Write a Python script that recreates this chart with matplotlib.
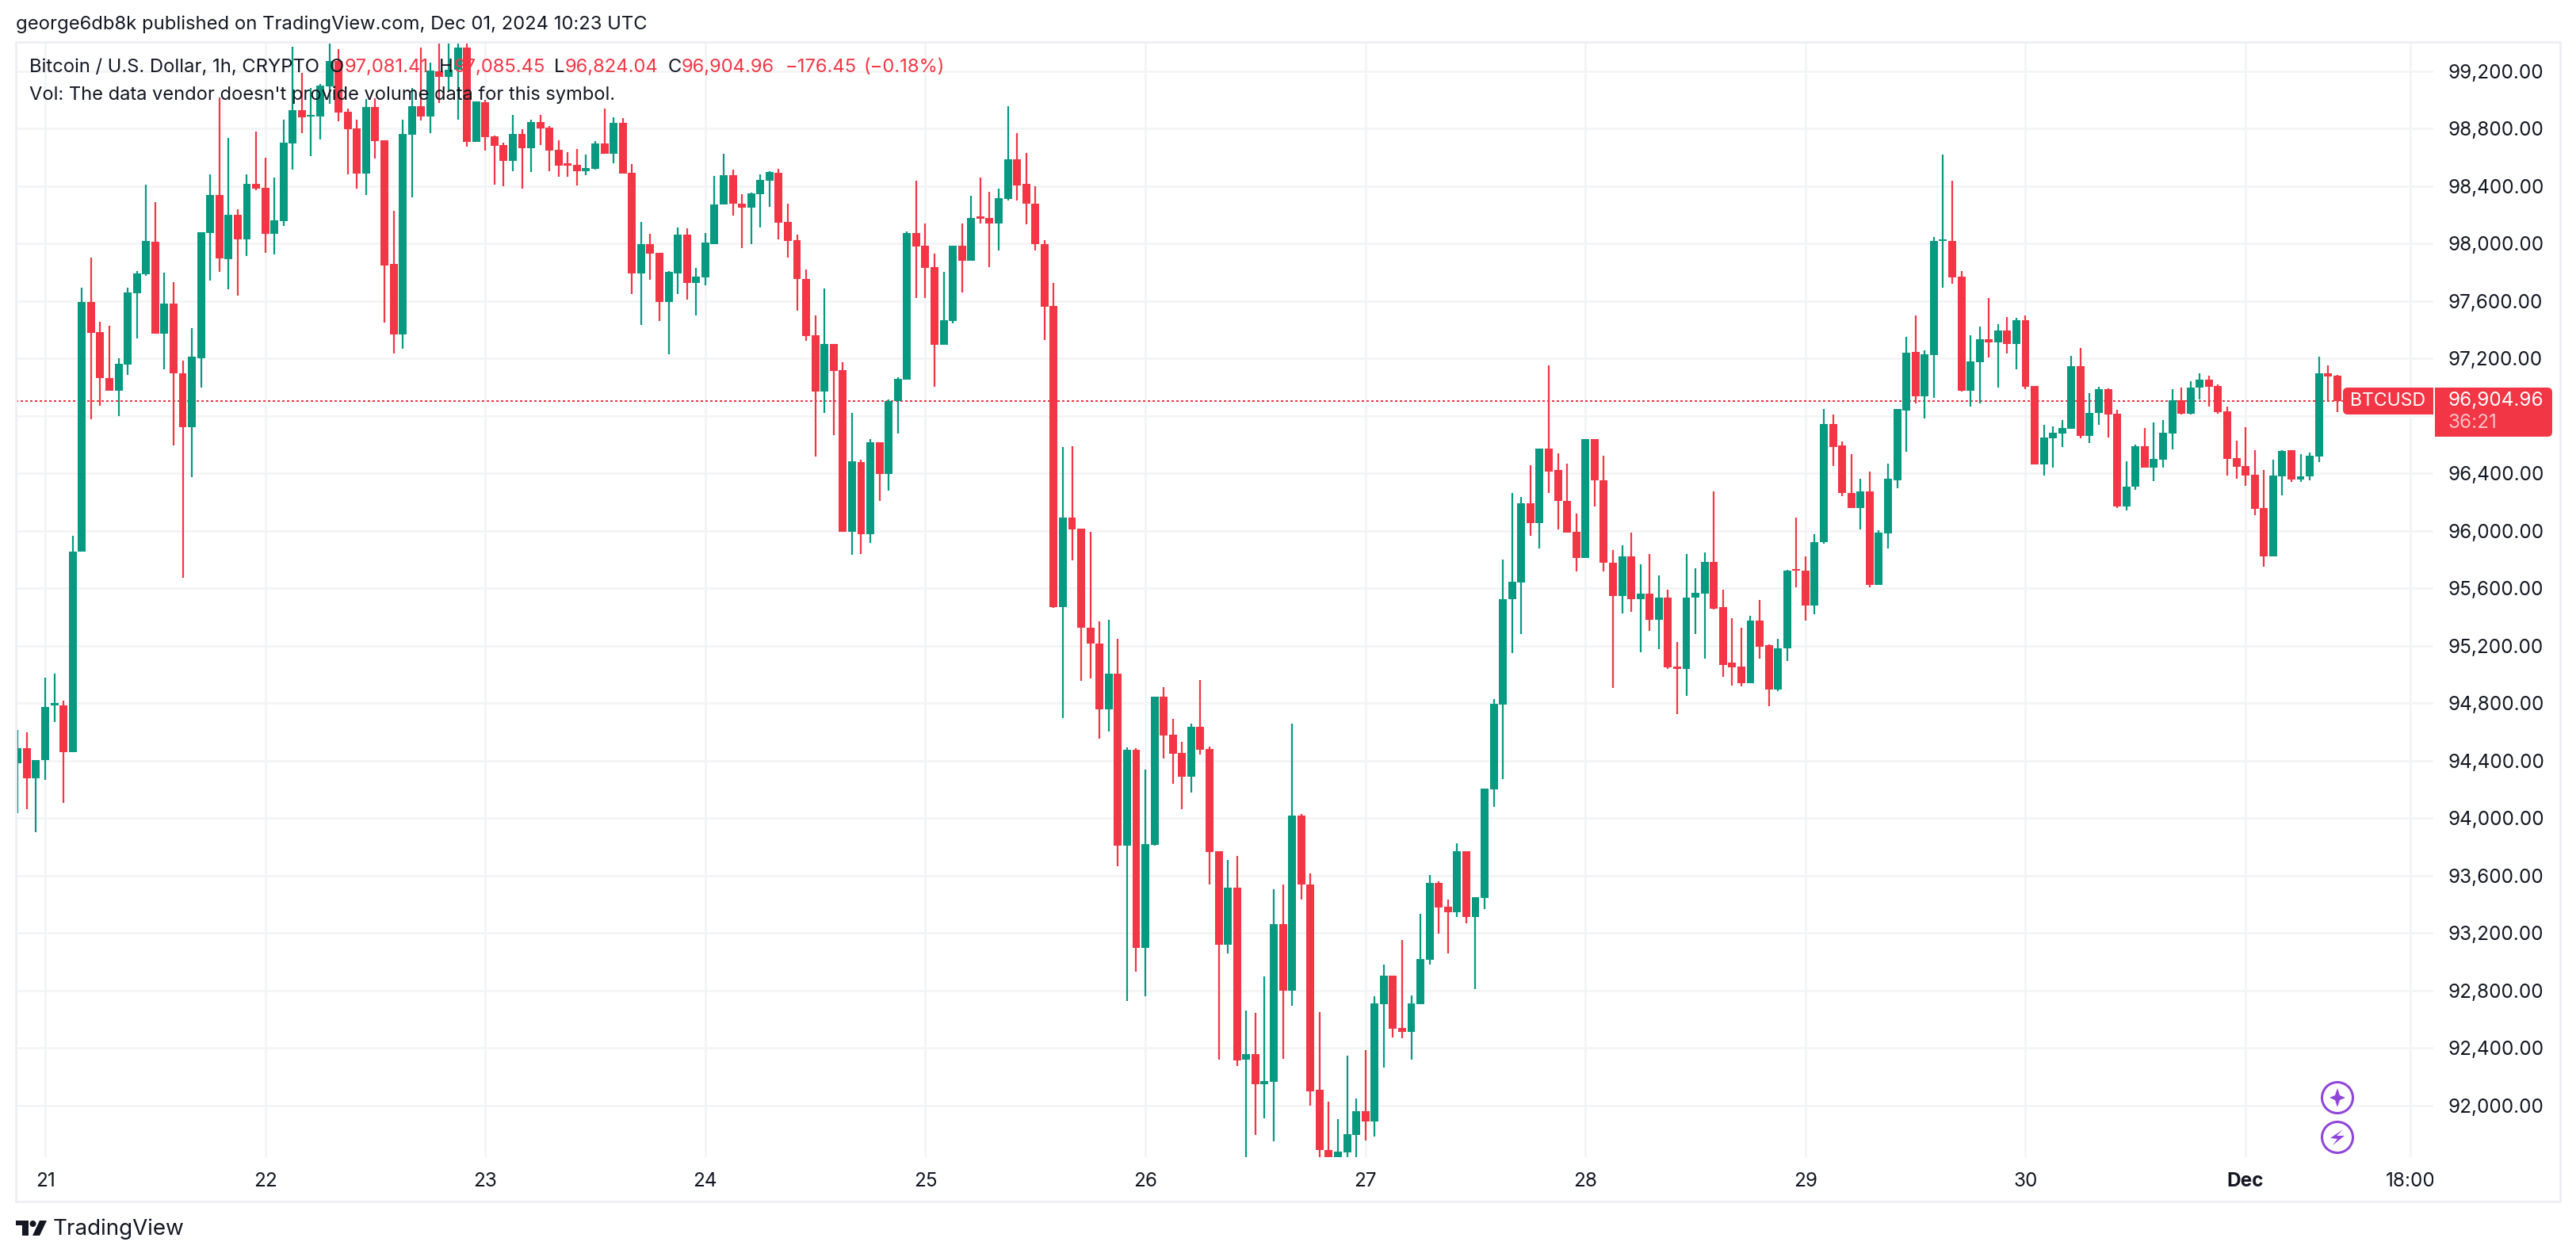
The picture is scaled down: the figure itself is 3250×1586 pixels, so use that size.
import matplotlib
matplotlib.use('Agg')
import matplotlib.pyplot as plt
import numpy as np
from matplotlib.patches import Rectangle, Circle, FancyBboxPatch, Polygon

opens = [
    94384, 94488, 94280, 94403, 94787, 94787, 94462, 95857, 97594, 97385,
    97064, 96975, 97158, 97653, 97788, 98011, 97374, 97583, 97098, 96721,
    97202, 98075, 98339, 97892, 98201, 98030, 98414, 98388, 98067, 98156,
    98697, 98930, 98884, 98882, 99092, 99268, 98915, 98799, 98485, 98948,
    98717, 97855, 97366, 98755, 98954, 98882, 99196, 99160, 99211, 99362,
    98706, 98985, 98744, 98684, 98573, 98761, 98661, 98843, 98805, 98650,
    98551, 98546, 98503, 98518, 98695, 98623, 98838, 98491, 97794, 97998,
    97935, 97590, 97794, 98061, 97724, 97762, 97998, 98269, 98473, 98279,
    98248, 98343, 98434, 98491, 98149, 98023, 97755, 97362, 96968, 97298,
    97119, 95993, 96479, 95976, 96616, 96394, 96901, 97052, 98075, 97984,
    97833, 97295, 97460, 97984, 97882, 98181, 98178, 98139, 98308, 98585,
    98413, 98279, 97998, 97566, 95469, 96095, 96015, 95328, 95218, 94755,
    95007, 93810, 94477, 93099, 93816, 94848, 94579, 94455, 94291, 94634,
    94483, 93772, 93121, 93514, 92320, 92358, 92149, 92165, 93264, 92800,
    94016, 93541, 92110, 91691, 91620, 91675, 91796, 91961, 91890, 92707,
    92902, 92542, 92515, 92707, 93017, 93552, 93385, 93346, 93772, 93313,
    93442, 94203, 94793, 95523, 95639, 96194, 96056, 96575, 96421, 96206,
    95991, 95810, 96637, 96354, 95780, 95544, 95824, 95523, 95561, 95379,
    95537, 95054, 95037, 95533, 95561, 95786, 95468, 95082, 95054, 94942,
    95373, 95202, 94894, 95181, 95729, 95725, 95478, 95919, 96746, 96592,
    96265, 96156, 96272, 95622, 95981, 96354, 96839, 97246, 96934, 97225,
    98016, 98018, 97769, 96976, 97174, 97334, 97311, 97394, 97301, 97465,
    97007, 96463, 96644, 96678, 96712, 97147, 96663, 96818, 96986, 96815,
    96170, 96305, 96590, 96440, 96497, 96678, 96908, 96815, 96995, 97052,
    97007, 96832, 96507, 96450, 96391, 96159, 95824, 96381, 96562, 96355,
    96381, 96518, 97099, 97081.41,
]
highs = [
    94615, 94600, 94406, 94980, 95003, 94820, 95968, 97694, 97903, 97456,
    97430, 97199, 97694, 97810, 98410, 98287, 97799, 97732, 97187, 97411,
    98078, 98481, 99014, 98735, 98239, 98481, 98779, 98597, 98459, 98861,
    99368, 99187, 99081, 99112, 99393, 99351, 98937, 98860, 99003, 99011,
    98717, 98228, 98860, 99084, 99362, 99257, 99393, 99393, 99389, 99393,
    98990, 99001, 98750, 98700, 98893, 98794, 98860, 98893, 98816, 98717,
    98634, 98656, 98617, 98711, 98937, 98877, 98871, 98551, 98149, 98065,
    97935, 97808, 98111, 98104, 97829, 98075, 98469, 98624, 98512, 98343,
    98353, 98483, 98501, 98522, 98276, 98061, 97819, 97499, 97685, 97298,
    97172, 96820, 96493, 96637, 96616, 96915, 97066, 98083, 98434, 98139,
    97928, 97801, 97984, 98139, 98332, 98459, 98357, 98381, 98955, 98765,
    98628, 98396, 98023, 97724, 96581, 96588, 96015, 95993, 95372, 95383,
    95251, 94491, 94485, 94340, 94848, 94914, 94694, 94529, 94661, 94963,
    94497, 93772, 93711, 93739, 92663, 92646, 92896, 93508, 93541, 94656,
    94027, 93618, 92652, 92028, 91906, 92347, 92050, 92386, 92762, 92984,
    92902, 93154, 92767, 93335, 93602, 93558, 93431, 93827, 93772, 93448,
    94208, 94831, 95798, 96265, 96238, 96459, 96575, 97149, 96537, 96470,
    96118, 96641, 96637, 96521, 95869, 95902, 95985, 95769, 95837, 95687,
    95588, 95229, 95841, 95738, 95852, 96272, 95588, 95390, 95324, 95411,
    95516, 95212, 95246, 95731, 96090, 95824, 95974, 96846, 96812, 96624,
    96531, 96364, 96415, 96002, 96470, 96846, 97352, 97499, 97256, 98043,
    98619, 98436, 97807, 97362, 97421, 97621, 97438, 97488, 97480, 97499,
    97007, 96737, 96727, 96771, 97218, 97273, 96959, 97003, 96993, 96843,
    96484, 96600, 96716, 96754, 96771, 96986, 96997, 97039, 97096, 97079,
    97018, 96864, 96628, 96723, 96562, 96423, 96495, 96562, 96562, 96535,
    96545, 97212, 97149, 97085.45,
]
lows = [
    94034, 94063, 93903, 94265, 94667, 94108, 94462, 95857, 96777, 96871,
    96975, 96796, 97087, 97337, 97773, 97374, 97124, 96595, 95674, 96371,
    96997, 97739, 97803, 97683, 97639, 97914, 98373, 97937, 97926, 98123,
    98515, 98766, 98606, 98722, 98970, 98849, 98480, 98380, 98336, 98590,
    97452, 97236, 97269, 98320, 98856, 98766, 98976, 99068, 98860, 98673,
    98706, 98645, 98408, 98397, 98502, 98380, 98496, 98684, 98502, 98463,
    98463, 98402, 98474, 98514, 98623, 98557, 98485, 97646, 97432, 97745,
    97460, 97231, 97646, 97608, 97499, 97706, 97998, 98269, 98192, 97966,
    97998, 98114, 98255, 98026, 97900, 97530, 97323, 96517, 96823, 96665,
    95993, 95832, 95839, 95916, 96208, 96278, 96676, 97052, 97618, 97618,
    97003, 97295, 97442, 97657, 97879, 98139, 97833, 97949, 98297, 98297,
    98132, 97949, 97326, 95462, 94696, 95793, 94956, 94974, 94551, 94601,
    93668, 92729, 92929, 92762, 93807, 94417, 94241, 94060, 94181, 94444,
    93541, 92320, 93061, 92276, 91600, 91796, 91912, 91752, 92325, 92696,
    93431, 92001, 91600, 91600, 91600, 91600, 91600, 91757, 91785, 92265,
    92476, 92471, 92320, 92707, 92979, 93198, 93061, 93313, 93269, 92811,
    93368, 94077, 94274, 95147, 95284, 95964, 95875, 96261, 96012, 95985,
    95715, 95810, 96172, 95715, 94904, 95423, 95434, 95153, 95301, 95174,
    95037, 94727, 94849, 95284, 95113, 95455, 94982, 94921, 94915, 94942,
    95109, 94782, 94887, 95096, 95609, 95373, 95417, 95913, 96449, 96244,
    96156, 96008, 95605, 95622, 95875, 96299, 96548, 96889, 96780, 96923,
    97693, 97721, 96970, 96866, 96889, 97208, 96995, 97235, 97123, 96986,
    96463, 96383, 96440, 96583, 96712, 96644, 96613, 96737, 96651, 96161,
    96140, 96288, 96440, 96347, 96440, 96566, 96807, 96807, 96912, 96866,
    96817, 96385, 96364, 96313, 96109, 95752, 95824, 96248, 96341, 96341,
    96351, 96480, 96897, 96824.04,
]
closes = [
    94488, 94280, 94406, 94775, 94798, 94462, 95857, 97594, 97378, 97064,
    96975, 97165, 97661, 97791, 98019, 97374, 97583, 97098, 96721, 97210,
    98078, 98339, 97896, 98201, 98030, 98414, 98384, 98067, 98160, 98701,
    98928, 98878, 98891, 99097, 99268, 98910, 98794, 98485, 98948, 98711,
    97847, 97366, 98761, 98954, 98882, 99202, 99160, 99211, 99362, 98706,
    98990, 98739, 98678, 98573, 98761, 98661, 98843, 98799, 98645, 98540,
    98544, 98502, 98524, 98695, 98623, 98838, 98485, 97794, 97998, 97928,
    97590, 97801, 98061, 97724, 97770, 98005, 98269, 98473, 98276, 98248,
    98346, 98441, 98498, 98142, 98016, 97752, 97355, 96968, 97298, 97112,
    95993, 96482, 95976, 96616, 96394, 96901, 97056, 98075, 97977, 97829,
    97295, 97464, 97984, 97882, 98178, 98174, 98139, 98315, 98585, 98406,
    98276, 97995, 97558, 95469, 96095, 96007, 95325, 95213, 94755, 95007,
    93810, 94477, 93099, 93821, 94848, 94573, 94450, 94291, 94634, 94477,
    93766, 93121, 93514, 92314, 92358, 92149, 92171, 93264, 92800, 94016,
    93536, 92100, 91688, 91600, 91680, 91801, 91961, 91890, 92712, 92902,
    92537, 92515, 92712, 93022, 93552, 93379, 93346, 93772, 93313, 93448,
    94208, 94798, 95526, 95643, 96194, 96056, 96575, 96415, 96206, 95985,
    95810, 96637, 96350, 95776, 95544, 95824, 95523, 95561, 95379, 95537,
    95048, 95037, 95537, 95567, 95786, 95459, 95069, 95048, 94942, 95373,
    95195, 94894, 95185, 95725, 95721, 95478, 95923, 96746, 96586, 96261,
    96156, 96272, 95622, 95985, 96360, 96846, 97242, 96934, 97229, 98018,
    98020, 97763, 96976, 97178, 97334, 97311, 97394, 97301, 97465, 97003,
    96463, 96651, 96682, 96716, 97147, 96663, 96822, 96986, 96811, 96170,
    96309, 96590, 96440, 96501, 96682, 96908, 96815, 96997, 97052, 97003,
    96826, 96501, 96448, 96385, 96153, 95824, 96385, 96556, 96355, 96381,
    96522, 97099, 97072, 96904.96,
]

# bars counted from the first hour on the left, one label per day
time_ticks = [3, 27, 51, 75, 99, 123, 147, 171, 195, 219, 243, 261]
time_labels = ['21', '22', '23', '24', '25', '26', '27', '28', '29', '30', 'Dec', '18:00']
price_ticks = list(range(92000, 99201, 400))
hidden_price_label = 96800  # sits under the last price tag
last_price = 96904.96

UP = '#089981'
DOWN = '#F23645'
GRID = '#F3F4F6'
FRAME = '#EEEFF4'
INK = '#131722'
PURPLE = '#9146DB'
W, H = 3250, 1586
FONT = 'Inter'

plt.rcParams['font.family'] = [FONT, 'DejaVu Sans']

fig = plt.figure(figsize=(W / 100, H / 100), dpi=100, facecolor='white')

# price pane, placed in pixels
left, right, top, bottom = 20, 3070, 53, 1460
ax = fig.add_axes([left / W, 1 - bottom / H, (right - left) / W, (bottom - top) / H])
ax.set_xlim(-0.2, 263.48)
ax.set_ylim(91641, 99402)
for s in ax.spines.values():
    s.set_visible(False)

o = np.array(opens, dtype=float)
h = np.array(highs, dtype=float)
l = np.array(lows, dtype=float)
c = np.array(closes, dtype=float)
x = np.arange(len(o))
colors = [UP if b >= a else DOWN for a, b in zip(o, c)]

ax.set_axisbelow(True)
ax.grid(True, color=GRID, linewidth=2.0)
ax.set_xticks(time_ticks)
ax.set_yticks(price_ticks)
ax.set_yticklabels(['' if p == hidden_price_label else f'{p:,.2f}' for p in price_ticks])
ax.set_xticklabels(time_labels)
ax.yaxis.tick_right()
ax.tick_params(axis='y', length=0, pad=13, labelsize=17.5, labelcolor=INK)
ax.tick_params(axis='x', length=0, pad=14, labelsize=17.5, labelcolor=INK)

for lab in ax.get_xticklabels():
    if lab.get_text() == 'Dec':
        lab.set_fontweight('bold')

ax.axhline(last_price, color=DOWN, linewidth=1.44, linestyle=(0, (1.5, 1.5)), zorder=1.5)

ax.vlines(x, l, h, colors=colors, linewidth=1.6, zorder=2)
body_low = np.minimum(o, c)
body_h = np.maximum(np.abs(c - o), 12)
ax.bar(x, body_h, bottom=body_low, width=0.86, color=colors, linewidth=0, zorder=3)

# overlay in pixel coordinates for frame, texts and badges
ov = fig.add_axes([0, 0, 1, 1], facecolor='none')
ov.set_xlim(0, W)
ov.set_ylim(H, 0)
ov.axis('off')

# the 18:00 label is cut off where the price scale starts
ov.add_patch(Rectangle((right, 1464), 60, 48, facecolor='white', edgecolor='none'))
ov.add_patch(Rectangle((20, 53), 3210, 1463, fill=False, edgecolor=FRAME, linewidth=2.0))

ov.text(20, 31, 'george6db8k published on TradingView.com, Dec 01, 2024 10:23 UTC',
        fontsize=17.15, color=INK, va='center', ha='left')

ov.text(37, 85, 'Bitcoin / U.S. Dollar, 1h, CRYPTO', fontsize=17.1, color=INK, va='center')
legend_parts = [
    (416, 'O', INK), (435, '97,081.41', DOWN), (554, 'H', INK), (573, '97,085.45', DOWN),
    (699, 'L', INK), (713, '96,824.04', DOWN), (843, 'C', INK), (860, '96,904.96', DOWN),
    (991, '\u2212176.45', DOWN), (1090, '(\u22120.18%)', DOWN),
]
for px, txt, col in legend_parts:
    ov.text(px, 85, txt, fontsize=17.1, color=col, va='center')
ov.text(37, 120, "Vol: The data vendor doesn't provide volume data for this symbol.",
        fontsize=17.05, color=INK, va='center')

# last price tags: symbol on the left, price and countdown on the right
ov.add_patch(FancyBboxPatch((2960, 493), 130, 26, boxstyle='round,pad=4,rounding_size=6',
                            facecolor=DOWN, edgecolor='none', zorder=4))
ov.add_patch(Rectangle((right, 485), 6, 70, facecolor='white', edgecolor='none', zorder=4.1))
ov.add_patch(FancyBboxPatch((3080, 493), 136, 54, boxstyle='round,pad=4,rounding_size=6',
                            facecolor=DOWN, edgecolor='none', zorder=4.2))
ov.add_patch(Rectangle((3072, 489), 20, 62, facecolor=DOWN, edgecolor='none', zorder=4.3))
ov.text(2965, 506, 'BTCUSD', fontsize=16.6, color='white', va='center', zorder=5)
ov.text(3088, 506, '96,904.96', fontsize=17.5, color='white', va='center', zorder=5)
ov.text(3088, 533, '36:21', fontsize=17.5, color='#F9BFC4', va='center', zorder=5)

# purple badges
for cy in (1385, 1435):
    ov.add_patch(Circle((2949, cy), 19.5, facecolor='white', edgecolor=PURPLE, linewidth=2.2, zorder=4))
ov.add_patch(Polygon([(2949, 1373), (2952, 1382), (2959, 1385), (2952, 1388), (2949, 1397),
                      (2946, 1388), (2939, 1385), (2946, 1382)], facecolor=PURPLE, edgecolor='none', zorder=5))
ov.add_patch(Polygon([(2956, 1425), (2948, 1433), (2958, 1433), (2943, 1445), (2949, 1437),
                      (2940, 1436)], facecolor=PURPLE, edgecolor='none', zorder=5))

# TradingView logo
ov.add_patch(Polygon([(20, 1540), (36, 1540), (36, 1559), (28, 1559), (28, 1546), (20, 1546)],
                     facecolor=INK, edgecolor='none'))
ov.add_patch(Circle((41.5, 1544), 4, facecolor=INK, edgecolor='none'))
ov.add_patch(Polygon([(50, 1540), (59, 1540), (50, 1559), (41, 1559)], facecolor=INK, edgecolor='none'))
ov.text(67, 1551, 'TradingView', fontsize=20, color=INK, va='center')

fig.savefig('out.png', dpi=100, facecolor='white')
